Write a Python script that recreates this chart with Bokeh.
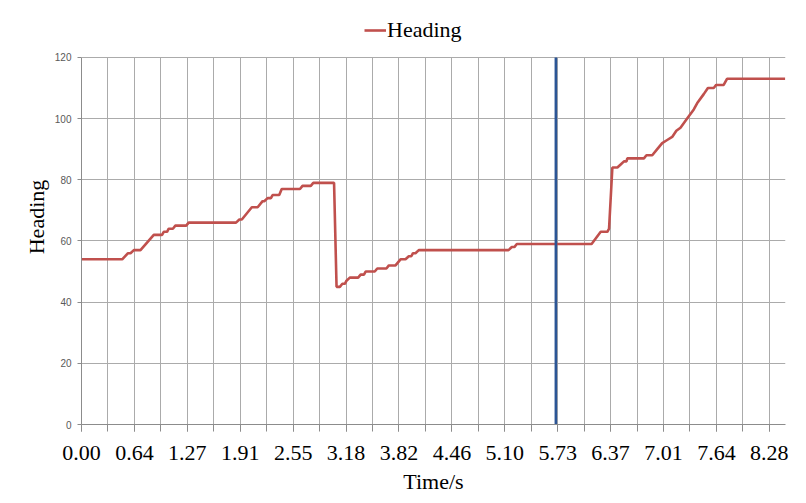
from bokeh.plotting import figure
from bokeh.models import (FixedTicker, Range1d, Legend, LegendItem, Grid)
from bokeh.embed import file_html
from bokeh.resources import INLINE

# ---- data ----
time_s = [0.00, 0.49, 0.56, 0.59, 0.63, 0.71, 0.87, 0.97, 0.99, 1.03, 1.05, 1.10,
          1.13, 1.26, 1.29, 1.86, 1.90, 1.93, 2.05, 2.12, 2.18, 2.20, 2.24, 2.28,
          2.30, 2.38, 2.41, 2.63, 2.66, 2.76, 2.79, 3.04, 3.07, 3.11, 3.14, 3.17,
          3.19, 3.23, 3.33, 3.36, 3.40, 3.42, 3.53, 3.56, 3.67, 3.70, 3.78, 3.84,
          3.90, 3.94, 3.97, 3.99, 4.02, 4.06, 5.14, 5.18, 5.21, 5.24, 6.14, 6.25,
          6.33, 6.35, 6.39, 6.45, 6.49, 6.53, 6.56, 6.57, 6.77, 6.80, 6.87, 6.93,
          6.99, 7.05, 7.11, 7.16, 7.21, 7.29, 7.37, 7.41, 7.49, 7.54, 7.61, 7.64,
          7.73, 7.77, 8.47]
heading = [54, 54, 56, 56, 57, 57, 62, 62, 63, 63, 64, 64,
           65, 65, 66, 66, 67, 67, 71, 71, 73, 73, 74, 74,
           75, 75, 77, 77, 78, 78, 79, 79, 45, 45, 46, 46,
           47, 48, 48, 49, 49, 50, 50, 51, 51, 52, 52, 54,
           54, 55, 55, 56, 56, 57, 57, 58, 58, 59, 59, 63,
           63, 64, 84, 84, 85, 86, 86, 87, 87, 88, 88, 90,
           92, 93, 94, 96, 97, 100, 103, 105, 108, 110, 110, 111,
           111, 113, 113]

x_tick_labels = ["0.00", "0.64", "1.27", "1.91", "2.55", "3.18", "3.82",
                 "4.46", "5.10", "5.73", "6.37", "7.01", "7.64", "8.28"]
x_label_step = 0.6369          # seconds between labelled ticks
x_max = 8.474
y_min, y_max = 0, 120
y_ticks = [0, 20, 40, 60, 80, 100, 120]
marker_time = [5.71]           # blue vertical marker

series_name = "Heading"
line_color = "#C0504D"
marker_color = "#2B5595"
grid_color = "#ABABAB"
axis_color = "#8C8C8C"
serif = "Liberation Serif"

x_major = [i * x_label_step for i in range(len(x_tick_labels))]
x_minor = [i * x_label_step / 2 for i in range(2 * len(x_tick_labels) - 1)]

# the frame reaches above 120 to leave room for the legend (3.065 px per unit)
y_top = y_max + 48 / 3.065

p = figure(width=798, height=503, output_backend="svg", toolbar_location=None,
           x_range=Range1d(0, x_max), y_range=Range1d(y_min, y_top),
           min_border_left=81, min_border_right=13, min_border_top=9,
           min_border_bottom=79)
p.outline_line_color = None
p.background_fill_color = "white"
p.border_fill_color = "white"

r = p.line(time_s, heading, line_color=line_color, line_width=2.6)
p.segment(x0=marker_time, y0=[y_min], x1=marker_time, y1=[y_max],
          line_color=marker_color, line_width=2.6)

# x axis
xa = p.xaxis[0]
xa.ticker = FixedTicker(ticks=x_major, minor_ticks=x_minor)
xa.major_label_overrides = {t: lab for t, lab in zip(x_major, x_tick_labels)}
xa.major_label_text_font = serif
xa.major_label_text_font_size = "22px"
xa.major_label_text_color = "black"
xa.major_label_standoff = 14
xa.major_tick_out = 7
xa.major_tick_in = 0
xa.minor_tick_out = 7
xa.minor_tick_in = 0
xa.axis_line_color = axis_color
xa.major_tick_line_color = axis_color
xa.minor_tick_line_color = axis_color
xa.axis_label = "Time/s"
xa.axis_label_text_font = serif
xa.axis_label_text_font_size = "22px"
xa.axis_label_text_font_style = "normal"
xa.axis_label_text_color = "black"
xa.axis_label_standoff = 6

# y axis
ya = p.yaxis[0]
ya.ticker = FixedTicker(ticks=y_ticks)
ya.bounds = (y_min, y_max)
ya.major_label_text_font = "Liberation Sans"
ya.major_label_text_font_size = "10px"
ya.major_label_text_color = "#595959"
ya.major_label_standoff = 6
ya.major_tick_out = 4
ya.major_tick_in = 0
ya.minor_tick_line_color = None
ya.axis_line_color = axis_color
ya.major_tick_line_color = axis_color
ya.axis_label = "Heading"
ya.axis_label_text_font = serif
ya.axis_label_text_font_size = "22px"
ya.axis_label_text_font_style = "normal"
ya.axis_label_text_color = "black"
ya.axis_label_standoff = 3

p.xgrid.grid_line_color = grid_color
p.xgrid.minor_grid_line_color = grid_color
p.ygrid.grid_line_color = grid_color
if "cross_bounds" in Grid.properties():
    p.xgrid.cross_bounds = (y_min, y_max)

# legend: bottom edge 43 px below the page top -> measured from frame bottom
legend = Legend(items=[LegendItem(label=series_name, renderers=[r])],
                location=(283, 381), border_line_alpha=0,
                background_fill_alpha=0, label_text_font=serif,
                label_text_font_size="22px", label_text_color="black",
                glyph_width=22, label_standoff=1, padding=0, margin=0)
p.add_layout(legend, "center")

open("out.html", "w").write(file_html(p, INLINE))
